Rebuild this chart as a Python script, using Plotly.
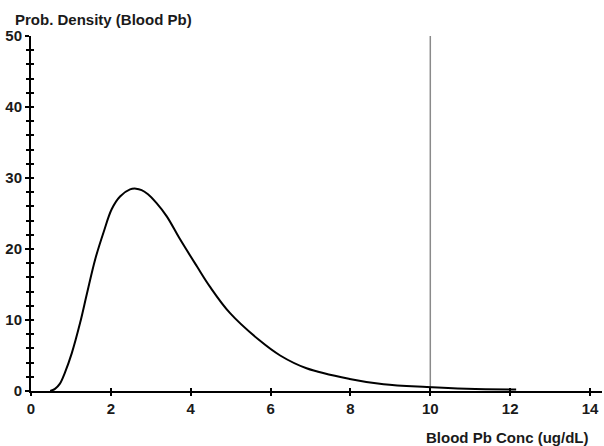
import plotly.graph_objects as go

# Data
conc = [0.48, 0.60, 0.72, 0.85, 1.02, 1.23, 1.40, 1.61, 1.82, 2.02, 2.23, 2.48, 2.63,
        2.77, 2.93, 3.14, 3.40, 3.73, 4.15, 4.48, 4.98, 5.73, 6.24, 6.90, 7.98, 8.83,
        9.91, 10.91, 12.05, 12.15]
density = [0.0, 0.3, 1.0, 2.6, 5.3, 9.6, 13.7, 18.6, 22.4, 25.6, 27.4, 28.4, 28.5,
           28.3, 27.7, 26.5, 24.6, 21.4, 17.6, 14.7, 11.0, 7.1, 5.0, 3.2, 1.7, 0.95,
           0.55, 0.3, 0.2, 0.2]
threshold_x = [10, 10]
threshold_y = [0, 50]
x_ticks = [0, 2, 4, 6, 8, 10, 12, 14]
y_ticks = [0, 10, 20, 30, 40, 50]

FONT = "Liberation Sans, Arial, sans-serif"
W, H = 604, 446
L, R, T, B = 31, 2, 36, 55
PW, PH = W - L - R, H - T - B

fig = go.Figure()
fig.add_trace(go.Scatter(x=threshold_x, y=threshold_y, mode="lines",
                         line=dict(color="#8a8a8a", width=1.5), hoverinfo="skip"))
fig.add_trace(go.Scatter(x=conc, y=density, mode="lines",
                         line=dict(color="black", width=2, shape="spline", smoothing=1.0)))

axis_common = dict(showgrid=False, zeroline=False, automargin=False)
tfont = dict(family=FONT, size=15, color="#1a1a1a", weight="bold")
fig.update_layout(
    width=W, height=H,
    margin=dict(l=L, r=R, t=T, b=B),
    plot_bgcolor="white", paper_bgcolor="white",
    showlegend=False,
    xaxis=dict(range=[0, 14.3], tickvals=x_ticks, ticks="outside", ticklen=3, tickwidth=2,
               tickcolor="black", showline=True, linecolor="black", linewidth=2,
               tickfont=tfont, **axis_common),
    yaxis=dict(range=[0, 50], tickvals=y_ticks, ticks="outside", ticklen=4, tickwidth=2,
               tickcolor="black", showline=True, linecolor="black", linewidth=2,
               minor=dict(dtick=2, ticks="outside", ticklen=3, tickwidth=2, tickcolor="black"),
               tickfont=tfont, **axis_common),
    xaxis2=dict(overlaying="x", range=[0, 14.3], tickvals=x_ticks, ticks="inside", ticklen=3,
                tickwidth=2, tickcolor="black", showticklabels=False, side="bottom",
                anchor="y", **axis_common),
    yaxis2=dict(overlaying="y", range=[0, 50], tickvals=y_ticks, ticks="inside", ticklen=3,
                tickwidth=2, tickcolor="black", showticklabels=False, side="left", anchor="x",
                minor=dict(dtick=2, ticks="inside", ticklen=3, tickwidth=2, tickcolor="black"),
                **axis_common),
    annotations=[
        dict(text="Prob. Density (Blood Pb)", xref="paper", yref="paper",
             x=(13 - L) / PW, y=1 + (T - 19) / PH, xanchor="left", yanchor="middle",
             showarrow=False, font=dict(family=FONT, size=15, color="#1a1a1a", weight="bold")),
        dict(text="Blood Pb Conc (ug/dL)", xref="paper", yref="paper",
             x=(590 - L) / PW, y=-(437 - (H - B)) / PH, xanchor="right", yanchor="middle",
             showarrow=False, font=dict(family=FONT, size=15, color="#1a1a1a", weight="bold")),
    ],
)
fig.add_trace(go.Scatter(x=[None], y=[None], xaxis="x2", yaxis="y2", showlegend=False))

fig.write_html("out.html", config={"displayModeBar": False},
               post_script="document.body.style.margin='0';")
